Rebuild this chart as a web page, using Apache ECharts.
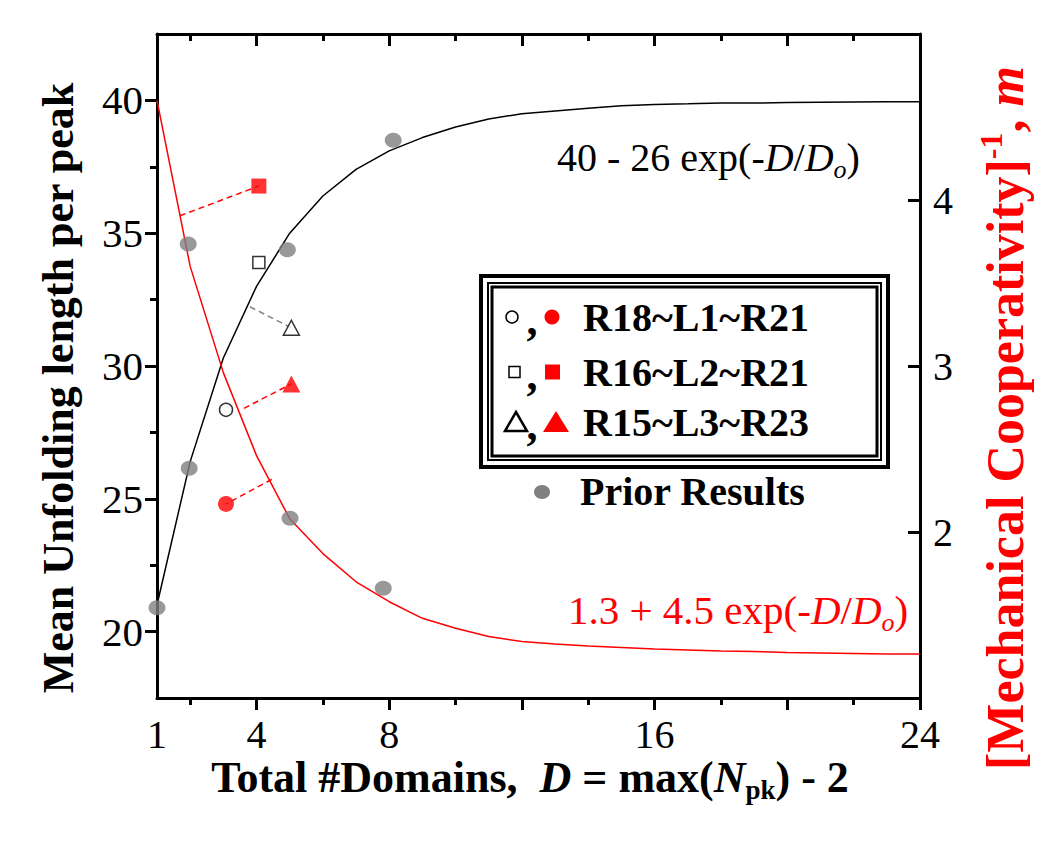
<!DOCTYPE html>
<html>
<head>
<meta charset="utf-8">
<script src="https://cdn.jsdelivr.net/npm/echarts@6.0.0/dist/echarts.min.js"></script>
<style>
  html, body { margin: 0; padding: 0; background: #fff; }
  #box { width: 1050px; height: 863px; }
</style>
</head>
<body>
<div id="box"></div>
<script>
// fit curves at integer D
const domains = [1, 2, 3, 4, 5, 6, 7, 8, 9, 10, 11, 12, 13, 14, 15, 16, 17, 18, 19, 20, 21, 22, 23, 24];
const lengthFit = [21.0, 26.4, 30.3, 33.0, 35.0, 36.4, 37.4, 38.1, 38.6, 39.0, 39.3, 39.5, 39.6, 39.7, 39.8, 39.85, 39.87, 39.9, 39.9, 39.92, 39.93, 39.94, 39.95, 39.95];
const coopFit = [4.60, 3.60, 2.96, 2.46, 2.08, 1.87, 1.70, 1.58, 1.48, 1.42, 1.37, 1.34, 1.325, 1.313, 1.304, 1.295, 1.289, 1.283, 1.28, 1.274, 1.271, 1.268, 1.265, 1.265];

// prior results (grey dots)
const priorLenD = [1, 1.97, 4.93, 8.12];
const priorLen = [20.9, 26.15, 34.38, 38.5];
const priorCoopD = [1.94, 5.01, 7.82];
const priorCoop = [3.735, 2.083, 1.661];

// the three constructs
const constructs = ['R18~L1~R21', 'R16~L2~R21', 'R15~L3~R23'];
const constructD = [3.08, 4.07, 5.05];
const constructLen = [28.35, 33.9, 31.44];
const constructCoop = [2.169, 4.084, 2.892];

// where the dashed pointer lines meet the curves
const coopAnchorD = [4.46, 1.69, 3.62];
const coopAnchor = [2.317, 3.905, 2.745];
const lenAnchorD = [3.80];
const lenAnchor = [32.23];

// axis ticks / labels
const xLabels = [1, 4, 8, 16, 24];
const xMajor = [4, 8, 12, 16, 20, 24];
const xMinor = [2, 6, 10, 14, 18, 22];
const yLabels = [20, 25, 30, 35, 40];
const yMinor = [22.5, 27.5, 32.5, 37.5];
const y2Labels = [2, 3, 4];

const FONT = '"Liberation Serif", "Times New Roman", Times, serif';
const RED = '#ff0000';
const GREY = '#808080';
const axisLine = { show: true, onZero: false, lineStyle: { color: '#000', width: 3 } };
const tickStyle = { color: '#000', width: 3 };

const openSymbols = ['circle', 'rect', 'triangle'];
const openSizes = [13, 12, [16, 15]];
const redSizes = [16, 15, [18, 17]];

let chart = echarts.init(document.getElementById('box'), null, { renderer: 'svg' });

function xAx(pos, ticks, len, inside, withLine, labels) {
  return {
    type: 'value', position: pos, min: 1, max: 24,
    axisLine: withLine ? axisLine : { show: false },
    axisTick: { show: true, customValues: ticks, length: len, inside: inside, lineStyle: tickStyle },
    axisLabel: labels ? { show: true, customValues: labels, fontSize: 40, fontFamily: FONT, color: '#000', margin: 16 } : { show: false },
    splitLine: { show: false }
  };
}

const connectors = [];
constructD.forEach((d, i) => {
  connectors.push({
    type: 'line', yAxisIndex: 2, symbol: 'none', silent: true, z: 3,
    data: [[coopAnchorD[i], coopAnchor[i]], [d, constructCoop[i]]],
    lineStyle: { color: RED, width: 1.5, type: [6, 4] }
  });
});
connectors.push({
  type: 'line', yAxisIndex: 0, symbol: 'none', silent: true, z: 3,
  data: [[lenAnchorD[0], lenAnchor[0]], [constructD[2], constructLen[2]]],
  lineStyle: { color: '#888', width: 1.5, type: [6, 4] }
});

const baseText = { fontFamily: FONT, fontSize: 40, fill: '#000' };
function txt(x, y, text, extra, rot) {
  return {
    type: 'text', x: x, y: y, rotation: rot || 0, z: 20,
    style: Object.assign({ text: text }, baseText, extra)
  };
}

const legendRows = [317, 372, 422];
const legendGraphics = [
  { type: 'rect', shape: { x: 481, y: 276, width: 407, height: 191 }, style: { fill: '#fff', stroke: '#000', lineWidth: 4 }, z: 10 },
  { type: 'rect', shape: { x: 488, y: 283, width: 393, height: 177 }, style: { fill: 'none', stroke: '#000', lineWidth: 2 }, z: 10 },
  { type: 'rect', shape: { x: 492, y: 287, width: 385, height: 169 }, style: { fill: 'none', stroke: '#000', lineWidth: 3 }, z: 10 },
  { type: 'circle', shape: { cx: 512, cy: legendRows[0], r: 6 }, style: { fill: '#fff', stroke: '#000', lineWidth: 1.5 }, z: 12 },
  { type: 'circle', shape: { cx: 552, cy: legendRows[0], r: 7.5 }, style: { fill: RED }, z: 12 },
  { type: 'rect', shape: { x: 509, y: legendRows[1] - 5.5, width: 11, height: 11 }, style: { fill: '#fff', stroke: '#000', lineWidth: 1.5 }, z: 12 },
  { type: 'rect', shape: { x: 545, y: legendRows[1] - 7.5, width: 15, height: 15 }, style: { fill: RED }, z: 12 },
  { type: 'polygon', shape: { points: [[516, legendRows[2] - 10], [527, legendRows[2] + 9], [505, legendRows[2] + 9]] }, style: { fill: '#fff', stroke: '#000', lineWidth: 2.5 }, z: 12 },
  { type: 'polygon', shape: { points: [[556, legendRows[2] - 11], [569, legendRows[2] + 10], [543, legendRows[2] + 10]] }, style: { fill: RED }, z: 12 },
  { type: 'ellipse', shape: { cx: 542, cy: 492, rx: 8, ry: 7 }, style: { fill: GREY }, z: 12 }
];
constructs.forEach((name, i) => {
  legendGraphics.push(txt(532, legendRows[i] + 3, ',', { fontWeight: 'bold', fontSize: 44, align: 'center', textAlign: 'center', verticalAlign: 'middle', textVerticalAlign: 'middle' }));
  legendGraphics.push(txt(583, legendRows[i], name, { fontWeight: 'bold', align: 'left', textAlign: 'left', verticalAlign: 'middle', textVerticalAlign: 'middle' }));
});
legendGraphics.push(txt(580, 491, 'Prior Results', { fontWeight: 'bold', align: 'left', textAlign: 'left', verticalAlign: 'middle', textVerticalAlign: 'middle' }));

const richBase = {
  i: { fontFamily: FONT, fontSize: 40, fontStyle: 'italic', lineHeight: 50 },
  o: { fontFamily: FONT, fontSize: 26, fontStyle: 'italic', verticalAlign: 'bottom', lineHeight: 26 }
};
const centered = { align: 'center', textAlign: 'center', verticalAlign: 'middle', textVerticalAlign: 'middle' };

const titleGraphics = [
  txt(58, 388, 'Mean Unfolding length per peak', Object.assign({ fontWeight: 'bold', fontSize: 44 }, centered), Math.PI / 2),
  txt(1005, 418, '[Mechanical Cooperativity]{sup|-1}, {m|m}', Object.assign({
    fontWeight: 'bold', fontSize: 52, fill: RED, lineHeight: 60,
    rich: {
      sup: { fontFamily: FONT, fontSize: 32, fontWeight: 'bold', fill: RED, verticalAlign: 'top', lineHeight: 32 },
      m: { fontFamily: FONT, fontSize: 52, fontWeight: 'bold', fontStyle: 'italic', fill: RED, lineHeight: 60 }
    }
  }, centered), Math.PI / 2),
  txt(530, 777, 'Total #Domains,  {i|D} = max({i|N}{sub|pk}) - 2', Object.assign({
    fontWeight: 'bold', fontSize: 44, lineHeight: 52,
    rich: {
      i: { fontFamily: FONT, fontSize: 44, fontWeight: 'bold', fontStyle: 'italic', lineHeight: 52 },
      sub: { fontFamily: FONT, fontSize: 27, fontWeight: 'bold', verticalAlign: 'bottom', lineHeight: 27 }
    }
  }, centered)),
  txt(557, 157, '40 - 26 exp(-{i|D}/{i|D}{o|o})', {
    lineHeight: 50, align: 'left', textAlign: 'left', verticalAlign: 'middle', textVerticalAlign: 'middle', rich: richBase
  }),
  txt(568, 610, '1.3 + 4.5 exp(-{i|D}/{i|D}{o|o})', {
    fontSize: 41, lineHeight: 50, fill: RED, align: 'left', textAlign: 'left', verticalAlign: 'middle', textVerticalAlign: 'middle',
    rich: {
      i: Object.assign({}, richBase.i, { fill: RED, fontSize: 41 }),
      o: Object.assign({}, richBase.o, { fill: RED })
    }
  })
];

const option = {
  animation: false,
  backgroundColor: '#fff',
  grid: { left: 157, right: 130, top: 34, bottom: 165, containLabel: false, outerBoundsMode: 'none' },
  xAxis: [
    xAx('bottom', xMajor, 12, false, true, xLabels),
    xAx('bottom', xMinor, 7, false, false, null),
    xAx('top', xMajor, 12, true, true, null),
    xAx('top', xMinor, 7, true, false, null)
  ],
  yAxis: [
    {
      type: 'value', position: 'left', min: 17.5, max: 42.5,
      axisLine: axisLine,
      axisTick: { show: true, customValues: yLabels, length: 12, lineStyle: tickStyle },
      axisLabel: { customValues: yLabels, fontSize: 41, fontFamily: FONT, color: '#000', margin: 14 },
      splitLine: { show: false }
    },
    {
      type: 'value', position: 'left', min: 17.5, max: 42.5,
      axisLine: { show: false },
      axisTick: { show: true, customValues: yMinor, length: 7, lineStyle: tickStyle },
      axisLabel: { show: false },
      splitLine: { show: false }
    },
    {
      type: 'value', position: 'right', min: 1, max: 5,
      axisLine: axisLine,
      axisTick: { show: true, customValues: y2Labels, length: 12, inside: true, lineStyle: tickStyle },
      axisLabel: { customValues: y2Labels, fontSize: 40, fontFamily: FONT, color: '#000', margin: 13 },
      splitLine: { show: false }
    }
  ],
  graphic: { elements: legendGraphics.concat(titleGraphics) },
  series: [
    {
      name: 'length fit', type: 'line', yAxisIndex: 0, symbol: 'none', silent: true, z: 2,
      data: domains.map((d, i) => [d, lengthFit[i]]),
      lineStyle: { color: '#000', width: 1.5 }
    },
    {
      name: 'cooperativity fit', type: 'line', yAxisIndex: 2, symbol: 'none', silent: true, z: 2,
      data: domains.map((d, i) => [d, coopFit[i]]),
      lineStyle: { color: RED, width: 1.5 }
    }
  ].concat(connectors).concat([
    {
      name: 'Prior Results', type: 'scatter', yAxisIndex: 0, symbol: 'circle', symbolSize: [17, 15], z: 5,
      data: priorLenD.map((d, i) => [d, priorLen[i]]),
      itemStyle: { color: GREY }
    },
    {
      name: 'Prior Results (m)', type: 'scatter', yAxisIndex: 2, symbol: 'circle', symbolSize: [17, 15], z: 5,
      data: priorCoopD.map((d, i) => [d, priorCoop[i]]),
      itemStyle: { color: GREY }
    },
    {
      name: 'length', type: 'scatter', yAxisIndex: 0, z: 6,
      data: constructD.map((d, i) => ({ value: [d, constructLen[i]], symbol: openSymbols[i], symbolSize: openSizes[i] })),
      itemStyle: { color: '#fff', borderColor: '#000', borderWidth: 1.5 }
    },
    {
      name: 'cooperativity', type: 'scatter', yAxisIndex: 2, z: 6,
      data: constructD.map((d, i) => ({ value: [d, constructCoop[i]], symbol: openSymbols[i], symbolSize: redSizes[i] })),
      itemStyle: { color: RED }
    }
  ])
};
chart.setOption(option);
</script>
</body>
</html>
